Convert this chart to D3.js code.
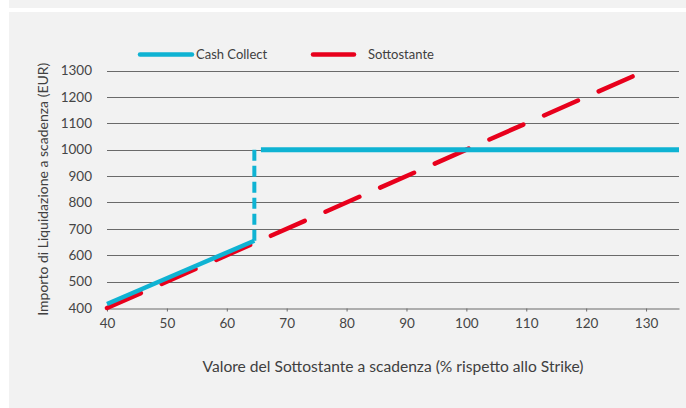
<!DOCTYPE html>
<html><head><meta charset="utf-8">
<script src="https://cdn.jsdelivr.net/npm/d3@7"></script>
<style>
html,body{margin:0;padding:0;background:#fff;}
svg{display:block;}
text{font-family:"Lato","Open Sans",sans-serif;fill:#404040;}
</style></head><body>
<script>
// ---- data ----
const xTicks = [40,50,60,70,80,90,100,110,120,130];
const yTicks = [400,500,600,700,800,900,1000,1100,1200,1300];
const cashLowX = [40, 64.6];
const cashLowY = [415, 655];
const cashJumpX = [64.6, 64.6];
const cashJumpY = [655, 1000];
const cashHighX = [65.7, 135.5];
const cashHighY = [1000, 1000];
const underX = [40, 128.3];
const underY = [400, 1283];
const seriesNames = ["Cash Collect", "Sottostante"];
const xTitle = "Valore del Sottostante a scadenza (% rispetto allo Strike)";
const yTitle = "Importo di Liquidazione a scadenza (EUR)";

const W = 686, H = 408;
const blue = "#0fb3d3", red = "#e8001c";
const svg = d3.select("body").append("svg").attr("width", W).attr("height", H);

// backgrounds
svg.append("rect").attr("x",9).attr("y",0).attr("width",W-9).attr("height",8).attr("fill","#f2f2f2");
svg.append("rect").attr("x",9).attr("y",12).attr("width",W-9).attr("height",H-12).attr("fill","#f2f2f2");

const x = d3.scaleLinear().domain([40,135.5]).range([107,679]);
const y = d3.scaleLinear().domain([400,1300]).range([308,70.5]);

// gridlines
svg.append("g").selectAll("line").data(yTicks.filter(d=>d>400)).join("line")
  .attr("x1",x(40)).attr("x2",x(135.5))
  .attr("y1",d=>Math.round(y(d))+0.5).attr("y2",d=>Math.round(y(d))+0.5)
  .attr("stroke","#6a6a6a").attr("stroke-width",1);

const numFont = "DejaVu Sans";
// x axis
const xAxis = svg.append("g").attr("transform",`translate(0,${Math.round(y(400))+0.5})`)
  .call(d3.axisBottom(x).tickValues(xTicks).tickFormat(d3.format("d")).tickSize(3).tickPadding(7).tickSizeOuter(0));
xAxis.select(".domain").attr("stroke","#6a6a6a");
xAxis.selectAll(".tick line").attr("stroke","#6a6a6a");
xAxis.selectAll("text").attr("font-size",13.5).style("fill","#454545").attr("font-family",numFont);

// y axis (labels only)
const yAxis = svg.append("g").attr("transform",`translate(${x(40)},0)`)
  .call(d3.axisLeft(y).tickValues(yTicks).tickFormat(d3.format("d")).tickSize(0).tickPadding(15));
yAxis.select(".domain").remove();
yAxis.selectAll("text").attr("font-size",13.5).style("fill","#454545").attr("font-family",numFont);

const line = d3.line().x(d=>x(d[0])).y(d=>y(d[1]));
const zip = (a,b)=>a.map((v,i)=>[v,b[i]]);

// underlying (red dashed)
svg.append("path").attr("d",line(zip(underX,underY))).attr("fill","none")
  .attr("stroke",red).attr("stroke-width",4.5).attr("stroke-linecap","round")
  .attr("stroke-dasharray","37,22.7");

// cash collect
svg.append("path").attr("d",line(zip(cashLowX,cashLowY))).attr("fill","none")
  .attr("stroke",blue).attr("stroke-width",4.5).attr("stroke-linecap","butt");
svg.append("path").attr("d",line(zip(cashJumpX,cashJumpY))).attr("fill","none")
  .attr("stroke",blue).attr("stroke-width",4).attr("stroke-linecap","butt")
  .attr("stroke-dasharray","11,5");
svg.append("path").attr("d",line(zip(cashHighX,cashHighY))).attr("fill","none")
  .attr("stroke",blue).attr("stroke-width",5).attr("stroke-linecap","butt");

// legend
const leg = svg.append("g");
leg.append("line").attr("x1",140).attr("x2",192).attr("y1",54.5).attr("y2",54.5)
  .attr("stroke",blue).attr("stroke-width",4.5).attr("stroke-linecap","round");
leg.append("text").attr("x",196).attr("y",54.5).attr("dy","0.35em").attr("font-size",13).text(seriesNames[0]);
leg.append("line").attr("x1",313).attr("x2",354).attr("y1",54.5).attr("y2",54.5)
  .attr("stroke",red).attr("stroke-width",4.5).attr("stroke-linecap","round");
leg.append("text").attr("x",368).attr("y",54.5).attr("dy","0.35em").attr("font-size",13).text(seriesNames[1]);

// titles
svg.append("text").attr("x",(x(40)+x(135.5))/2).attr("y",367).attr("dy","0.35em")
  .attr("text-anchor","middle").attr("font-size",15.6).text(xTitle);
svg.append("text").attr("transform",`translate(43,${(y(400)+y(1300))/2}) rotate(-90)`)
  .attr("dy","0.35em").attr("text-anchor","middle").attr("font-size",14).text(yTitle);
</script>
</body></html>
